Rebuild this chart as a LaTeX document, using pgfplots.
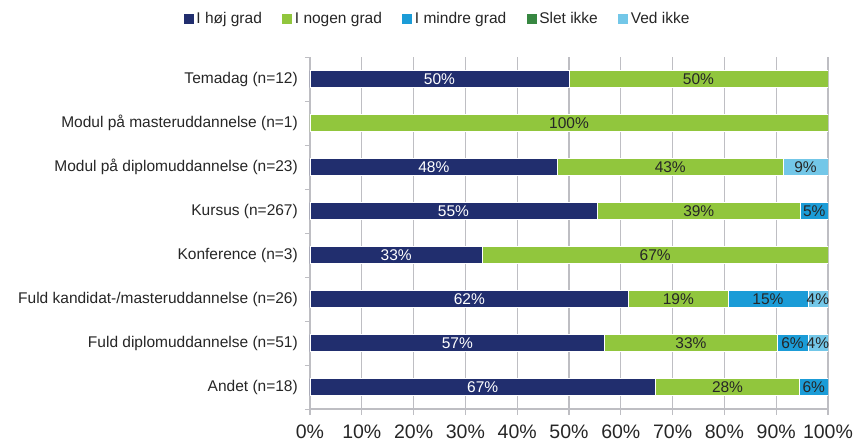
\documentclass[border=0pt]{standalone}
\usepackage{pgfplots}
\pgfplotsset{compat=1.18}
\usepackage{fontspec}
\setmainfont{Liberation Sans}
\definecolor{cnavy}{RGB}{33,46,110}
\definecolor{cgreen}{RGB}{145,198,61}
\definecolor{cblue}{RGB}{27,156,215}
\definecolor{cdgreen}{RGB}{55,135,65}
\definecolor{clblue}{RGB}{115,199,232}
\definecolor{ctext}{RGB}{38,38,38}
\definecolor{cgrid}{RGB}{190,190,195}
\newcommand{\fs}{\fontsize{15.5bp}{18bp}\selectfont}
\newcommand{\fx}{\fontsize{19.5bp}{22bp}\selectfont}
\pgfplotsset{
  common/.style={
    scale only axis, width=518bp, height=352bp,
    xmin=0, xmax=100, ymin=-0.5, ymax=7.5,
  }
}
\begin{document}
\begin{tikzpicture}
\begin{axis}[
  common,
  xbar stacked, bar width=17bp,
  axis x line*=bottom, axis y line*=left,
  axis line style={cgrid, line width=1.2bp},
  ytick={0,...,7},
  yticklabels={Andet (n=18), Fuld diplomuddannelse (n=51), Fuld kandidat-/masteruddannelse (n=26), Konference (n=3), Kursus (n=267), Modul på diplomuddannelse (n=23), Modul på masteruddannelse (n=1), Temadag (n=12)},
  minor ytick={-0.5,0.5,...,7.5},
  xtick={0,10,...,100},
  xticklabel={\pgfmathprintnumber{\tick}\%},
  /pgf/number format/assume math mode=true,
  tick align=outside,
  major tick length=6bp, minor tick length=5bp,
  major y tick style={draw=none},
  minor y tick style={draw=cgrid, line width=1bp},
  major x tick style={draw=cgrid, line width=1.2bp},
  xmajorgrids, major grid style={cgrid, line width=1.2bp},
  yticklabel style={font=\fs, text=ctext, inner sep=0pt, xshift=-6bp},
  xticklabel style={font=\fx, text=ctext, yshift=-6bp},
  every axis plot/.append style={draw=white, line width=0.5bp},
  legend style={at={(axis description cs:0.247,1.108)}, anchor=center, draw=none, font=\fs, text=ctext,
    legend columns=-1, inner sep=0pt,
    /tikz/every even column/.append style={column sep=18bp},
    nodes={inner sep=2.5bp}},
  legend image code/.code={\fill[#1, draw=none] (0bp,-5bp) rectangle (10bp,5bp);},
]
\addplot[fill=cnavy] coordinates {(66.7,0) (56.9,1) (61.5,2) (33.3,3) (55.4,4) (47.8,5) (0,6) (50,7)};
\addplot[fill=cgreen] coordinates {(27.8,0) (33.3,1) (19.2,2) (66.7,3) (39.3,4) (43.5,5) (100,6) (50,7)};
\addplot[fill=cblue] coordinates {(5.5,0) (5.9,1) (15.4,2) (0,3) (5.3,4) (0,5) (0,6) (0,7)};
\addplot[fill=cdgreen] coordinates {(0,0) (0,1) (0,2) (0,3) (0,4) (0,5) (0,6) (0,7)};
\addplot[fill=clblue] coordinates {(0,0) (3.9,1) (3.9,2) (0,3) (0,4) (8.7,5) (0,6) (0,7)};
\legend{I høj grad, I nogen grad, I mindre grad, Slet ikke, Ved ikke}
\coordinate (O) at (axis description cs:0,0);
\end{axis}
\begin{axis}[common, hide axis]
\addplot[draw=none, mark=none, nodes near coords, point meta=explicit symbolic,
  every node near coord/.style={anchor=center, text=white, font=\fs}]
  coordinates {(25,7)[50\%] (23.9,5)[48\%] (27.7,4)[55\%] (16.65,3)[33\%] (30.75,2)[62\%] (28.45,1)[57\%] (33.35,0)[67\%]};
\addplot[draw=none, mark=none, nodes near coords, point meta=explicit symbolic,
  every node near coord/.style={anchor=center, text=ctext, font=\fs}]
  coordinates {(75,7)[50\%] (50,6)[100\%] (69.55,5)[43\%] (95.65,5)[9\%] (75.05,4)[39\%] (97.35,4)[5\%] (66.65,3)[67\%] (71.1,2)[19\%] (88.4,2)[15\%] (98.05,2)[4\%] (73.55,1)[33\%] (93.15,1)[6\%] (98.05,1)[4\%] (80.6,0)[28\%] (97.25,0)[6\%]};
\end{axis}
\pgfresetboundingbox
\path (O) ++(-310bp,-33bp) rectangle ++(854bp,442bp);
\end{tikzpicture}
\end{document}
